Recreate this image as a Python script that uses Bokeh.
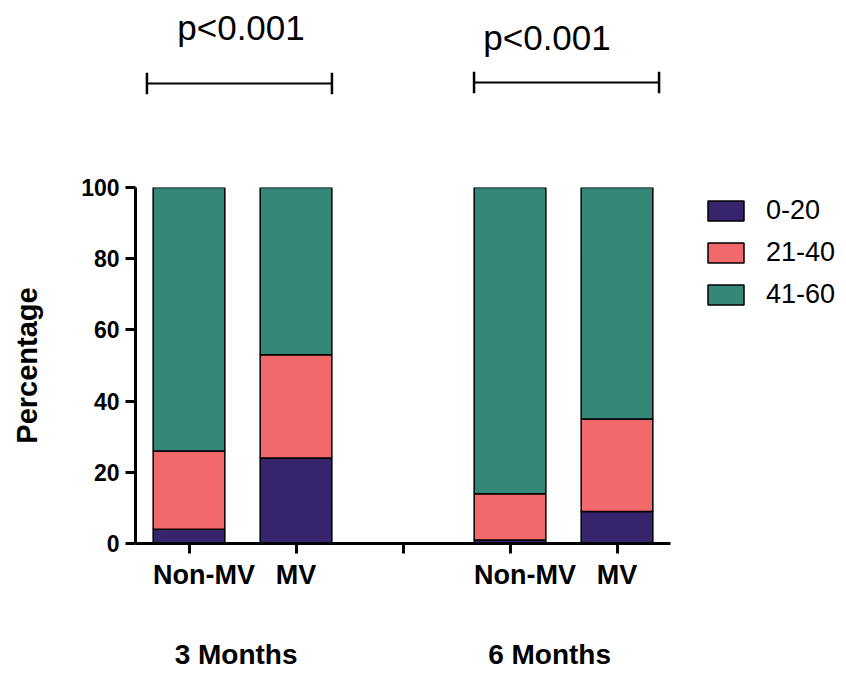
from bokeh.plotting import figure
from bokeh.models import ColumnDataSource, Range1d, FixedTicker, Legend, LegendItem, Label, LinearAxis
from bokeh.layouts import column
from bokeh.embed import file_html
from bokeh.resources import INLINE

# data
positions = [1, 2, 4, 5]
tick_positions = [1, 2, 3, 4, 5]
tick_labels = ["Non-MV", "MV", "Non-MV", "MV"]
tick_label_x = [1.14, 2.0, 4.14, 5.0]
series_names = ["0-20", "21-40", "41-60"]
v_0_20 = [4, 24, 1, 9]
v_21_40 = [22, 29, 13, 26]
v_41_60 = [74, 47, 86, 65]
colors = ["#36246C", "#F2696B", "#358778"]
group_labels = ["3 Months", "6 Months"]
group_x = [1.44, 4.37]
p_labels = ["p<0.001", "p<0.001"]
bracket_x0 = [0.607, 3.664]
bracket_x1 = [2.336, 5.393]
bracket_y = [129.2, 129.5]

FONT = "Liberation Sans"
W = 846
LEFT = 135
xr = Range1d(0.5, 0.5 + (W - LEFT) / 107)

# ---- top strip: significance brackets ----
top = figure(width=W, height=120, output_backend="svg", toolbar_location=None,
             x_range=xr, y_range=Range1d(543 / 3.56 - 120 / 3.56, 543 / 3.56),
             x_axis_type=None, y_axis_type=None,
             min_border_left=LEFT, min_border_right=0, min_border_top=0, min_border_bottom=0)
top.outline_line_color = None
top.grid.visible = False

top.segment(x0=bracket_x0, y0=bracket_y, x1=bracket_x1, y1=bracket_y, line_color="black", line_width=2)
top.segment(x0=bracket_x0, y0=[y - 3.0 for y in bracket_y], x1=bracket_x0, y1=[y + 3.0 for y in bracket_y],
            line_color="black", line_width=2.5)
top.segment(x0=bracket_x1, y0=[y - 3.0 for y in bracket_y], x1=bracket_x1, y1=[y + 3.0 for y in bracket_y],
            line_color="black", line_width=2.5)

p_x = [1.486, 4.346]
p_y = [144.9, 142.1]
for x, y, t in zip(p_x, p_y, p_labels):
    top.add_layout(Label(x=x, y=y, text=t, text_align="center", text_baseline="middle",
                         text_font=FONT, text_font_size="35px", text_color="black"))

# ---- main chart ----
src = ColumnDataSource(dict(x=positions, s0=v_0_20, s1=v_21_40, s2=v_41_60))

p = figure(width=W, height=556, output_backend="svg", toolbar_location=None,
           x_range=xr, y_range=Range1d(0, 100),
           min_border_left=LEFT, min_border_right=0, min_border_top=67, min_border_bottom=133)
p.outline_line_color = None
p.grid.visible = False

rs = p.vbar_stack(["s0", "s1", "s2"], x="x", width=0.67, source=src, color=colors,
                  line_color="black", line_width=1.5)

xa = p.xaxis[0]
xa.bounds = (0.5, 5.5)
xa.ticker = FixedTicker(ticks=tick_positions)
xa.major_label_overrides = {t: "" for t in tick_positions}
xa.minor_tick_line_color = None
xa.axis_line_width = 3
xa.major_tick_line_width = 3
xa.major_tick_out = 10
xa.major_tick_in = 0
xa.major_label_standoff = 0
xa.major_label_text_font_size = "1px"

la = LinearAxis(ticker=FixedTicker(ticks=tick_label_x),
                major_label_overrides={x: t for x, t in zip(tick_label_x, tick_labels)})
la.axis_line_color = None
la.major_tick_line_color = None
la.minor_tick_line_color = None
la.major_label_standoff = 0
la.major_label_text_font = FONT
la.major_label_text_font_style = "bold"
la.major_label_text_font_size = "27px"
la.major_label_text_color = "black"
p.add_layout(la, "below")

ga = LinearAxis(ticker=FixedTicker(ticks=group_x),
                major_label_overrides={x: t for x, t in zip(group_x, group_labels)})
ga.axis_line_color = None
ga.major_tick_line_color = None
ga.minor_tick_line_color = None
ga.major_label_standoff = 40
ga.major_label_text_font = FONT
ga.major_label_text_font_style = "bold"
ga.major_label_text_font_size = "28px"
ga.major_label_text_color = "black"
p.add_layout(ga, "below")

ya = p.yaxis[0]
ya.ticker = FixedTicker(ticks=[0, 20, 40, 60, 80, 100])
ya.minor_tick_line_color = None
ya.axis_line_width = 3
ya.major_tick_line_width = 3
ya.major_tick_out = 10
ya.major_tick_in = 0
ya.major_label_standoff = 6
ya.major_label_text_font = FONT
ya.major_label_text_font_style = "bold"
ya.major_label_text_font_size = "23px"
ya.major_label_text_color = "black"
ya.axis_label = "Percentage"
ya.axis_label_text_font = FONT
ya.axis_label_text_font_style = "bold"
ya.axis_label_text_font_size = "29px"
ya.axis_label_text_color = "black"
ya.axis_label_standoff = 35

legend = Legend(items=[LegendItem(label=n, renderers=[r]) for n, r in zip(series_names, rs)],
                location=(568, 233), glyph_width=45, glyph_height=25,
                spacing=11, label_standoff=18, padding=0, margin=0,
                border_line_color=None, background_fill_alpha=0,
                label_text_font=FONT, label_text_font_size="27px", label_text_color="black")
p.add_layout(legend)

open("out.html", "w").write(file_html(column(top, p, spacing=0), INLINE))
